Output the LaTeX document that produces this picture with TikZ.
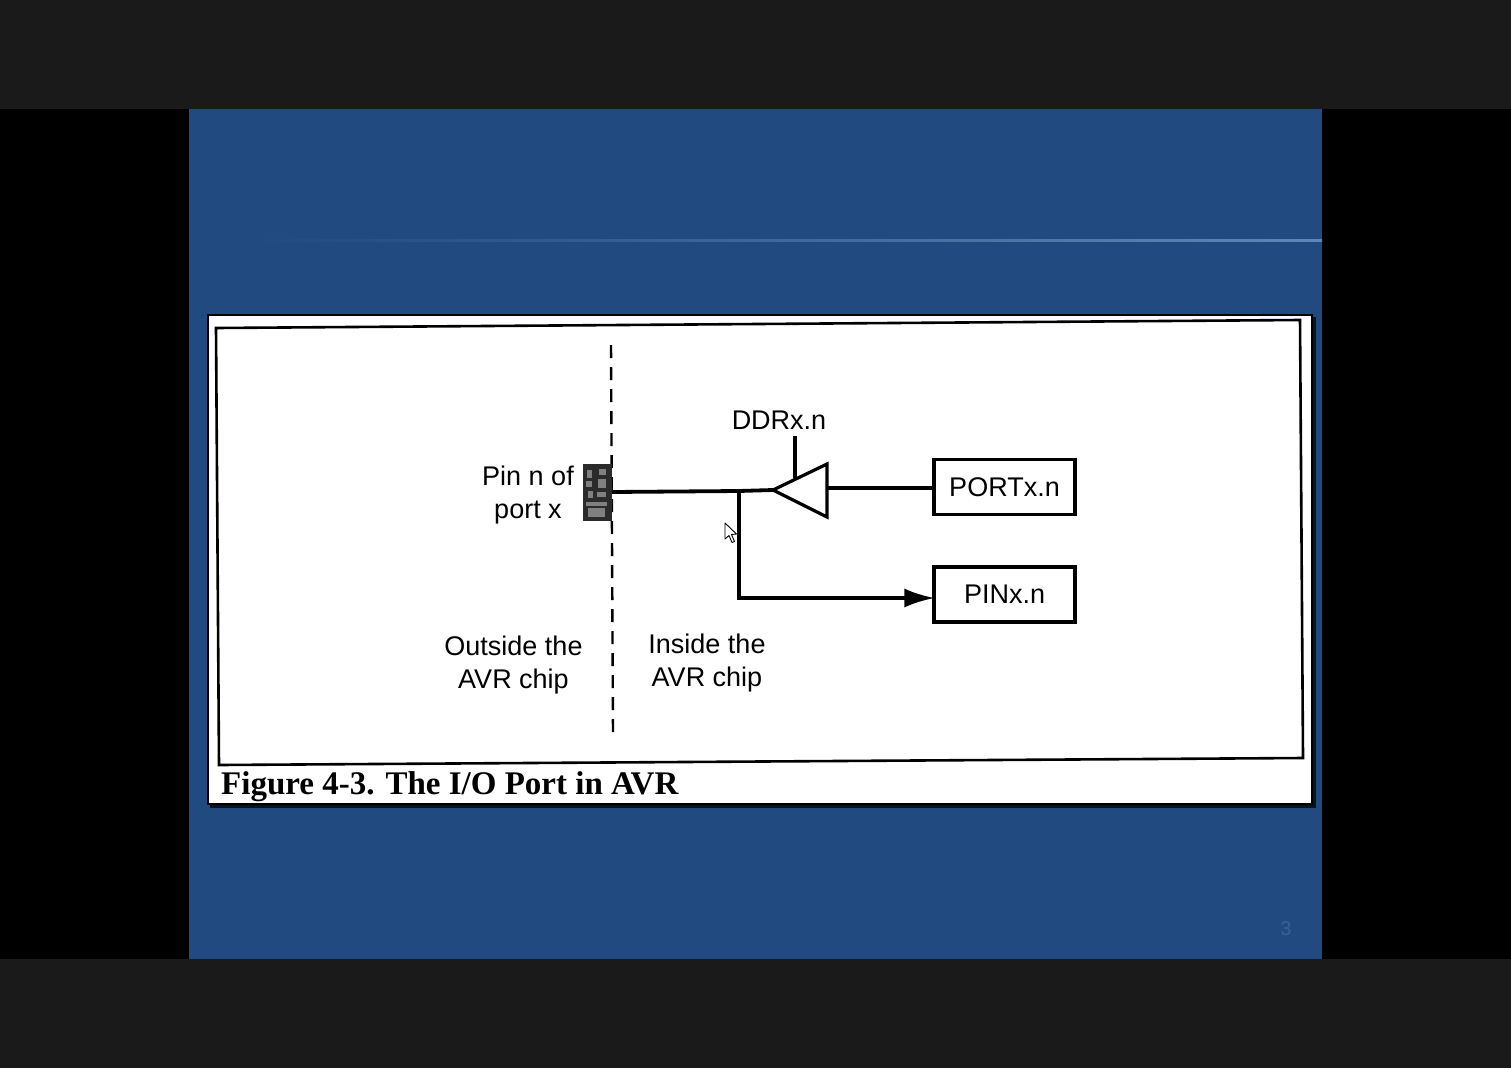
\documentclass[tikz,border=0pt]{standalone}
\usepackage{fontspec}
\setmainfont{Liberation Sans}
\newfontfamily\capfont{Liberation Serif}
\usetikzlibrary{positioning}
\usetikzlibrary{arrows.meta}
\definecolor{bandgrey}{HTML}{1A1A1A}
\definecolor{slideblue}{HTML}{214A80}
\definecolor{ruleblue}{HTML}{5F86B8}
\definecolor{numblue}{HTML}{3A6098}
\definecolor{pinfill}{HTML}{2B2B2B}
\tikzset{
  regbox/.style={draw, line width=3.1pt, fill=white, minimum width=141pt, minimum height=55pt, inner sep=0pt, font=\fontsize{27}{32}\selectfont},
  wire/.style={line width=3.2pt},
  lbl/.style={inner sep=0pt, align=center, font=\fontsize{27}{33}\selectfont},
}
\begin{document}
\begin{tikzpicture}[x=1pt, y=-1pt]
    \useasboundingbox (0,0) rectangle (1511,1068);
    % slide background
    \fill[color=black] (0,0) rectangle (1511,1068);
    \fill[color=bandgrey] (0,0) rectangle (1511,109);
    \fill[color=bandgrey] (0,959) rectangle (1511,1068);
    \fill[color=slideblue] (189,109) rectangle (1322,959);
    \shade[left color=slideblue, middle color=ruleblue, right color=ruleblue] (255,239) rectangle (1322,241);
    \node[text=numblue, inner sep=0pt, font=\fontsize{20}{24}\selectfont] (pagenum) at (1286,929) {3};
    % scanned figure
    \fill[color=black!75!slideblue] (210,317) rectangle (1316,808);
    \draw[line width=2.6pt, fill=white] (208,315) rectangle (1312,804);
    \draw[line width=2.6pt] (216,328) -- (1300,320) -- (1303,758) -- (219,765) -- cycle;
    \draw[line width=2.4pt, dash pattern=on 13pt off 9pt] (611,345) -- (613,735);
    % pin
    \fill[color=pinfill] (583,464) rectangle (612,521);
    \foreach \x/\y/\w/\h in {587/470/5/8, 599/469/7/6, 586/481/6/6, 598/479/8/9, 588/491/5/7, 597/492/9/5, 586/502/21/4, 588/508/17/9}
      \fill[color=black!50] (\x,\y) rectangle +(\w,\h);
    \coordinate (pin) at (612,492);
    % nodes
    \node[regbox] (port) at (1004.5,487) {PORTx.n};
    \node[regbox] (pinx) at (1004.5,594.5) {PINx.n};
    \node[lbl] (ddr) at (779,420) {DDRx.n};
    \node[lbl] (pinlabel) at (528,495) {Pin n of\\[0pt]port x};
    \node[lbl] (outside) at (513.5,665) {Outside the\\[0pt]AVR chip};
    \node[lbl] (inside) at (707,663.5) {Inside the\\[0pt]AVR chip};
    \node[anchor=base west, inner sep=0pt, font=\capfont\bfseries\fontsize{33}{36}\selectfont] (caption) at (221,794) {Figure 4-3. The I/O Port in AVR};
    % buffer
    \coordinate (tip) at (773,490);
    \coordinate (backtop) at (827,464);
    \coordinate (backbot) at (827,517);
    \coordinate (backmid) at (827,488);
    \coordinate (ctrl) at (795,478);
    \coordinate (ctrltop) at (795,436);
    \coordinate (branch) at (739,491);
    \coordinate (corner) at (739,598);
    \draw[wire, line join=miter] (tip) -- (backtop) -- (backbot) -- cycle;
    \draw[wire, line width=3.8pt] (pin) -- (branch) -- (tip);
    \draw[wire, line width=3.1pt] (backmid) -- (backmid -| port.west);
    \draw[wire, line width=3.1pt] (ctrltop) -- (ctrl);
    \draw[wire, line width=3.1pt, -{Latex[length=30pt, width=19pt]}, shorten >=-2pt] (branch) -- (corner) -- (corner -| pinx.west);
    % mouse pointer
    \draw[line width=0.9pt, fill=white, line join=round] (725,523) -- (725,539) -- (729,535.5) -- (732,542.5) -- (734.5,541.5) -- (731.5,534.5) -- (736.5,534) -- cycle;
\end{tikzpicture}
\end{document}
